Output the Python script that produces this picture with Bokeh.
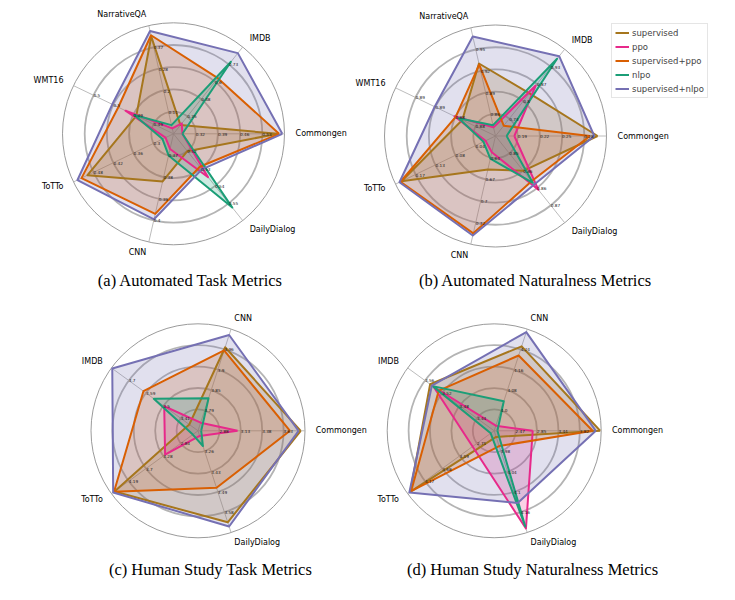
import numpy as np
from bokeh.plotting import figure
from bokeh.models import Range1d, Legend, LegendItem
from bokeh.core.properties import value
from bokeh.embed import file_html
from bokeh.resources import INLINE

SERIES = ["supervised", "ppo", "supervised+ppo", "nlpo", "supervised+nlpo"]
COLORS = ["#a6761d", "#e7298a", "#d95f02", "#1b9e77", "#7570b3"]

# ---------------- (a) Automated Task Metrics ----------------
CATS_A = ["Commongen", "IMDB", "NarrativeQA", "WMT16", "ToTTo", "CNN", "DailyDialog"]
LO_A = [0.32, 0.35, 0.11, 0.485, 0.30, 0.37, 0.52]
HI_A = [0.53, 0.73, 0.37, 0.50, 0.48, 0.40, 0.55]
TICKS_A = [["0.32", "0.39", "0.46", "0.53"], ["0.35", "0.48", "0.6", "0.73"],
           ["0.11", "0.2", "0.28", "0.37"], ["0.49", "0.49", "0.5", "0.5"],
           ["0.3", "0.36", "0.42", "0.48"], ["0.37", "0.38", "0.39", "0.4"],
           ["0.52", "0.53", "0.54", "0.55"]]
A_SUPERVISED = [0.579, 0.287, 0.413, 0.4893, 0.498, 0.382, 0.520]
A_PPO = [0.278, 0.299, 0.045, 0.4920, 0.264, 0.367, 0.535]
A_SUP_PPO = [0.583, 0.629, 0.418, 0.4938, 0.516, 0.397, 0.529]
A_NLPO = [0.278, 0.749, 0.058, 0.4898, 0.273, 0.370, 0.5525]
A_SUP_NLPO = [0.593, 0.812, 0.435, 0.4953, 0.528, 0.3995, 0.5305]

# ---------------- (b) Automated Naturalness Metrics ----------------
CATS_B = ["Commongen", "IMDB", "NarrativeQA", "WMT16", "ToTTo", "CNN", "DailyDialog"]
LO_B = [0.19, 0.73, 0.86, 0.88, 0.04, 0.64, 0.85]
HI_B = [0.28, 0.93, 0.95, 0.89, 0.17, 0.72, 0.87]
TICKS_B = [["0.19", "0.22", "0.25", "0.28"], ["0.73", "0.8", "0.87", "0.93"],
           ["0.86", "0.89", "0.92", "0.95"], ["0.88", "0.88", "0.89", "0.89"],
           ["0.04", "0.08", "0.13", "0.17"], ["0.64", "0.67", "0.7", "0.72"],
           ["0.85", "0.86", "0.86", "0.87"]]
B_SUPERVISED = [0.298, 0.827, 0.9305, 0.8822, 0.2003, 0.6547, 0.8567]
B_PPO = [0.1855, 0.857, 0.842, 0.8835, 0.0183, 0.6333, 0.864]
B_SUP_PPO = [0.2875, 0.703, 0.929, 0.8833, 0.2025, 0.7333, 0.8607]
B_NLPO = [0.175, 0.960, 0.845, 0.8828, 0.0227, 0.6413, 0.8613]
B_SUP_NLPO = [0.2935, 0.970, 0.968, 0.8868, 0.2047, 0.736, 0.862]

# ---------------- (c) Human Study Task Metrics ----------------
CATS_C = ["Commongen", "CNN", "IMDB", "ToTTo", "DailyDialog"]
LO_C = [2.88, 3.79, 3.41, 2.84, 3.26]
HI_C = [3.63, 3.96, 3.70, 4.19, 3.58]
TICKS_C = [["2.88", "3.13", "3.38", "3.63"], ["3.79", "3.85", "3.9", "3.96"],
           ["3.41", "3.5", "3.59", "3.7"], ["2.84", "3.28", "3.7", "4.19"],
           ["3.26", "3.43", "3.49", "3.58"]]
C_SUPERVISED = [3.830, 3.966, 3.362, 4.561, 3.633]
C_PPO = [3.0925, 3.756, 3.502, 3.245, 3.180]
C_SUP_PPO = [3.705, 3.957, 3.618, 4.5725, 3.452]
C_NLPO = [2.6675, 3.824, 3.560, 2.525, 3.233]
C_SUP_NLPO = [3.805, 4.000, 3.792, 4.595, 3.655]

# ---------------- (d) Human Study Naturalness Metrics ----------------
CATS_D = ["Commongen", "CNN", "IMDB", "ToTTo", "DailyDialog"]
LO_D = [2.47, 4.00, 3.44, 2.71, 3.98]
HI_D = [3.82, 4.24, 3.56, 4.17, 4.16]
TICKS_D = [["2.47", "2.85", "3.44", "3.82"], ["4.0", "4.08", "4.16", "4.24"],
           ["3.44", "3.48", "3.52", "3.56"], ["2.71", "3.19", "3.68", "4.17"],
           ["3.98", "4.04", "4.1", "4.16"]]
D_SUPERVISED = [4.2475, 4.252, 3.548, 4.584, 3.938]
D_PPO = [2.830, 3.940, 3.540, 2.832, 4.208]
D_SUP_PPO = [4.090, 4.216, 3.528, 4.559, 3.965]
D_NLPO = [2.0875, 4.036, 3.542, 2.321, 4.202]
D_SUP_NLPO = [4.1575, 4.308, 3.544, 4.608, 4.133]

CAPTIONS = ["(a) Automated Task Metrics", "(b) Automated Naturalness Metrics",
            "(c) Human Study Task Metrics", "(d) Human Study Naturalness Metrics"]

RINGS = [0.2, 0.4, 0.6, 0.8]

p = figure(width=719, height=584, x_range=Range1d(0, 719), y_range=Range1d(584, 0),
           output_backend="svg", toolbar_location=None, min_border=0,
           x_axis_type=None, y_axis_type=None)
p.outline_line_color = None
p.background_fill_color = "white"

FONT = value("DejaVu Sans")


def radar(cx, cy, R, cats, lo, hi, ticks, series_vals):
    n = len(cats)
    ang = np.arange(n) * 2 * np.pi / n
    lo = np.array(lo, dtype=float)
    hi = np.array(hi, dtype=float)
    for f in RINGS:
        p.circle(x=[cx], y=[cy], radius=f * R, fill_color=None,
                 line_color="#b4b4b4", line_width=1.8)
    p.circle(x=[cx], y=[cy], radius=R, fill_color=None,
             line_color="#8f8f8f", line_width=0.9)
    p.segment(x0=[cx] * n, y0=[cy] * n, x1=cx + R * np.cos(ang), y1=cy - R * np.sin(ang),
              line_color="#b4b4b4", line_width=0.9)
    coords = []
    for vals in series_vals:
        r = 0.2 + 0.6 * (np.array(vals) - lo) / (hi - lo)
        coords.append((cx + r * R * np.cos(ang), cy - r * R * np.sin(ang)))
    for (xs, ys), col in zip(coords, COLORS):
        p.patch(xs, ys, fill_color=col, fill_alpha=0.22, line_color=None)
    rends = []
    for (xs, ys), col in zip(coords, COLORS):
        rl = p.line(np.append(xs, xs[0]), np.append(ys, ys[0]), line_color=col,
                    line_width=2, line_join="round")
        rends.append(rl)
    # radial tick labels
    tx, ty, tt = [], [], []
    for i in range(n):
        for j, f in enumerate(RINGS):
            tx.append(cx + f * R * np.cos(ang[i]))
            ty.append(cy - f * R * np.sin(ang[i]))
            tt.append(ticks[i][j])
    p.text(x=tx, y=ty, text=tt, text_font=FONT, text_font_size="4.2px",
           text_color="#1a1a1a", text_align="left", text_baseline="middle")
    # category labels
    for i, c in enumerate(cats):
        ca = np.cos(ang[i])
        align = "left" if ca > 0.01 else ("right" if ca < -0.01 else "center")
        p.text(x=[cx + 1.1 * R * ca], y=[cy - 1.1 * R * np.sin(ang[i])], text=[c],
               text_font=FONT, text_font_size="8px", text_color="#000000",
               text_align=align, text_baseline="middle")
    return rends


radar(173, 133.3, 111, CATS_A, LO_A, HI_A, TICKS_A,
      [A_SUPERVISED, A_PPO, A_SUP_PPO, A_NLPO, A_SUP_NLPO])
rb = radar(495, 135.5, 111, CATS_B, LO_B, HI_B, TICKS_B,
           [B_SUPERVISED, B_PPO, B_SUP_PPO, B_NLPO, B_SUP_NLPO])
radar(197.5, 430.3, 107, CATS_C, LO_C, HI_C, TICKS_C,
      [C_SUPERVISED, C_PPO, C_SUP_PPO, C_NLPO, C_SUP_NLPO])
radar(493.7, 430.3, 107, CATS_D, LO_D, HI_D, TICKS_D,
      [D_SUPERVISED, D_PPO, D_SUP_PPO, D_NLPO, D_SUP_NLPO])

# captions
p.text(x=[190, 535, 210, 532], y=[280, 280, 569, 569], text=CAPTIONS,
       text_font=value("Liberation Serif"), text_font_size="16.5px", text_color="#000000",
       text_align="center", text_baseline="middle")

legend = Legend(items=[LegendItem(label=s, renderers=[r]) for s, r in zip(SERIES, rb)],
                location=(611, 486), orientation="vertical",
                glyph_width=14, glyph_height=11, label_height=11, label_standoff=3,
                spacing=3, padding=3, margin=0,
                label_text_font="DejaVu Sans", label_text_font_size="8.5px",
                border_line_color="#cccccc", border_line_width=1,
                background_fill_alpha=0.85)
p.add_layout(legend)

open("out.html", "w").write(file_html(p, INLINE))
